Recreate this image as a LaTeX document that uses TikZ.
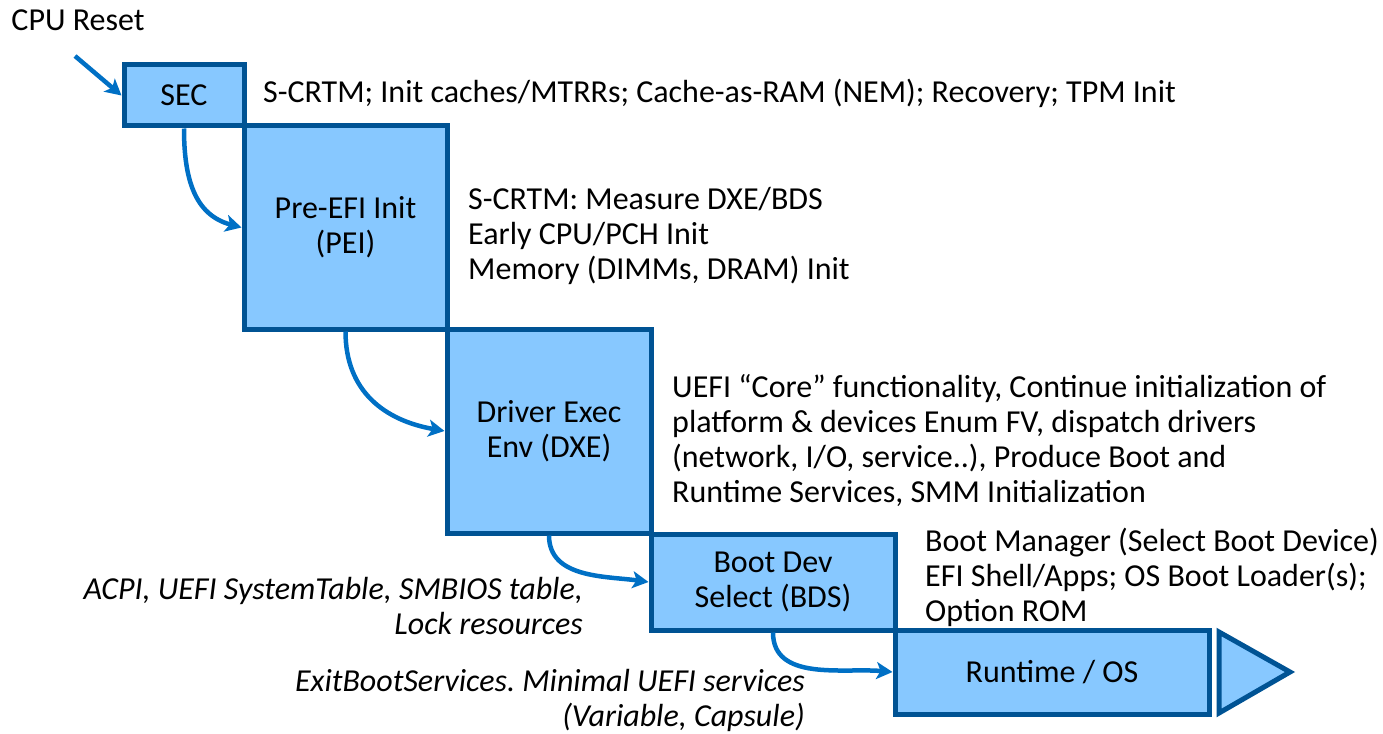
\documentclass[tikz,border=0pt]{standalone}
\usepackage{fontspec}
\setmainfont{Carlito}
\usetikzlibrary{arrows.meta}
\definecolor{boxfill}{RGB}{135,200,255}
\definecolor{boxline}{RGB}{0,83,148}
\definecolor{flowblue}{RGB}{0,112,197}
\newcommand\diagfont{\fontsize{32}{35}\selectfont\frenchspacing}
\begin{document}
\begin{tikzpicture}[x=1pt,y=-1pt,
  stage/.style={draw=boxline,fill=boxfill,line width=5pt,rectangle,
    align=center,font=\diagfont,inner sep=0pt},
  stageedge/.style={draw=boxline,fill=boxfill,line width=5pt,line join=miter},
  desc/.style={align=left,font=\diagfont,inner sep=0pt,anchor=west},
  note/.style={align=right,font=\diagfont\itshape,inner sep=0pt,anchor=east},
  flow/.style={draw=flowblue,line width=4.5pt,
    -{Stealth[length=16pt,width=17pt,inset=4pt]}}]
\useasboundingbox (0,0) rectangle (1383,733);

% boot phases
\node[stage,minimum width=120pt,minimum height=61pt] (sec) at (184,95.5) {SEC};
\node[stage,minimum width=203pt,minimum height=203pt] (pei) at (345.5,227.5) {Pre-EFI Init\\(PEI)};
\node[stage,minimum width=204pt,minimum height=204pt] (dxe) at (549,431) {Driver Exec\\Env (DXE)};
\node[stage,minimum width=244pt,minimum height=96pt] (bds) at (773,582) {Boot Dev\\Select (BDS)};
\node[stage,minimum width=314pt,minimum height=84pt] (rt) at (1052,672) {Runtime / OS};
\draw[stageedge] (1219,632) -- (1290,672) -- (1219,713) -- cycle;

% entry point
\node[font=\diagfont,inner sep=0pt] (reset) at (78,20) {CPU Reset};
\coordinate (resettail) at (75,56);
\draw[flow] (resettail) -- (sec.west);

% phase descriptions
\node[desc] (secnote) at (263,93) {S-CRTM; Init caches/MTRRs; Cache-as-RAM (NEM); Recovery; TPM Init};
\node[desc] (peinote) at (468,235.5) {S-CRTM: Measure DXE/BDS\\Early CPU/PCH Init\\Memory (DIMMs, DRAM) Init};
\node[desc] (dxenote) at (672,440.5) {UEFI “Core” functionality, Continue initialization of\\platform \& devices Enum FV, dispatch drivers\\(network, I/O, service..), Produce Boot and\\Runtime Services, SMM Initialization};
\node[desc] (bdsnote) at (925,577) {Boot Manager (Select Boot Device)\\EFI Shell/Apps; OS Boot Loader(s);\\Option ROM};
\node[note] (acpinote) at (583,606.5) {ACPI, UEFI SystemTable, SMBIOS table,\\Lock resources};
\node[note] (ebsnote) at (805,700) {ExitBootServices. Minimal UEFI services\\(Variable, Capsule)};

% hand-off between phases
\draw[flow] (sec.south) to[out=-90,in=165,looseness=1.1] (pei.west);
\draw[flow] (pei.south) to[out=-90,in=170,looseness=1.1] (dxe.west);
\draw[flow] (dxe.south) to[out=-90,in=172] (bds.west);
\draw[flow] (bds.south) to[out=-90,in=175] (rt.west);
\end{tikzpicture}
\end{document}
